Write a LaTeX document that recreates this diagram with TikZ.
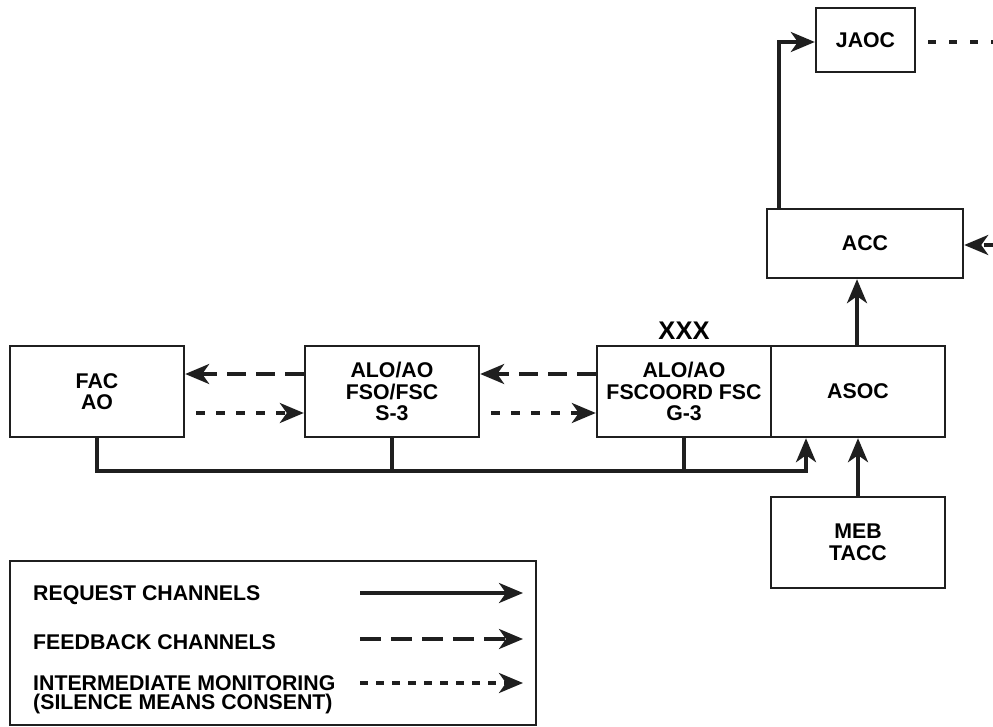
\documentclass[tikz,border=0pt]{standalone}
\usepackage{fontspec}
\setmainfont{Liberation Sans}
\usetikzlibrary{arrows.meta}
\begin{document}
\begin{tikzpicture}[x=1pt,y=-1pt,
  box/.style={draw=black!88, line width=2.4pt, align=center, inner sep=0pt,
    font=\fontsize{21.3}{21.5}\selectfont\bfseries},
  conn/.style={line width=3.5pt, draw=black!88},
  tip/.style={-{Stealth[length=24pt,width=20pt,inset=7pt]}},
  req/.style={conn, tip},
  fb/.style={conn, tip, dash pattern=on 19pt off 10pt},
  mon/.style={conn, tip, dash pattern=on 9pt off 11pt},
  lbl/.style={anchor=west, align=left, inner sep=0pt,
    font=\fontsize{21.3}{19.5}\selectfont\bfseries}
]
\useasboundingbox (0,0) rectangle (993,727);

% boxes
\node[box, minimum width=174pt, minimum height=91pt] (fac) at (97,391.5) {FAC\\AO};
\node[box, minimum width=174pt, minimum height=91pt] (s3) at (392,391.5) {ALO/AO\\FSO/FSC\\S-3};
\node[box, minimum width=174pt, minimum height=91pt] (g3) at (684,391.5) {ALO/AO\\FSCOORD FSC\\G-3};
\node[box, minimum width=174pt, minimum height=91pt] (asoc) at (858,391.5) {ASOC};
\node[box, minimum width=174pt, minimum height=91pt] (meb) at (858,542.5) {MEB\\TACC};
\node[box, minimum width=196pt, minimum height=69pt] (acc) at (865,243.5) {ACC};
\node[box, minimum width=99pt, minimum height=64pt] (jaoc) at (865.5,40) {JAOC};
\node[font=\fontsize{25.5}{25}\selectfont\bfseries, inner sep=0pt] (xxx) at (684,331) {XXX};

% feedback / monitoring between boxes
\draw[fb] ([yshift=17.5pt]s3.west) -- ([yshift=17.5pt]fac.east);
\draw[mon] ([xshift=11pt,yshift=-21.5pt]fac.east) -- ([yshift=-21.5pt]s3.west);
\draw[fb] ([yshift=17.5pt]g3.west) -- ([yshift=17.5pt]s3.east);
\draw[mon] ([xshift=11pt,yshift=-21.5pt]s3.east) -- ([yshift=-21.5pt]g3.west);

% request bus
\coordinate (busend) at (806,471);
\draw[req] (fac.south) |- (busend) -- (busend |- asoc.south);
\draw[conn] (s3.south) -- (s3.south |- busend);
\draw[conn] (g3.south) -- (g3.south |- busend);

% vertical request channels
\draw[req] (meb.north) -- (asoc.south);
\draw[req] ([xshift=-1pt]asoc.north) -- ([xshift=-1pt]asoc.north |- acc.south);
\draw[req] ([xshift=13pt]acc.north west) |- ([yshift=-2pt]jaoc.west);

% off-page channels
\coordinate (jout) at (993,42);
\draw[conn, dash pattern=on 8pt off 13pt, dash phase=9pt] ([yshift=-2pt]jaoc.east) -- (jout);
\coordinate (accin) at (993,245);
\draw[mon] (accin) -- (acc.east |- accin);

% legend
\node[draw=black!88, line width=2.4pt, minimum width=526pt, minimum height=164pt, inner sep=0pt] (legend) at (273,643) {};
\node[lbl] (l1) at (33,595) {REQUEST CHANNELS};
\node[lbl] (l2) at (33,642) {FEEDBACK CHANNELS};
\node[lbl] (l3) at (33,695) {INTERMEDIATE MONITORING\\(SILENCE MEANS CONSENT)};
\coordinate (a1s) at (360,593); \coordinate (a1e) at (523,593);
\coordinate (a2s) at (360,639); \coordinate (a2e) at (523,639);
\coordinate (a3s) at (360,683); \coordinate (a3e) at (523,683);
\draw[req] (a1s) -- (a1e);
\draw[fb, dash pattern=on 21pt off 10pt] (a2s) -- (a2e);
\draw[mon, dash pattern=on 8pt off 8pt] (a3s) -- (a3e);
\end{tikzpicture}
\end{document}
